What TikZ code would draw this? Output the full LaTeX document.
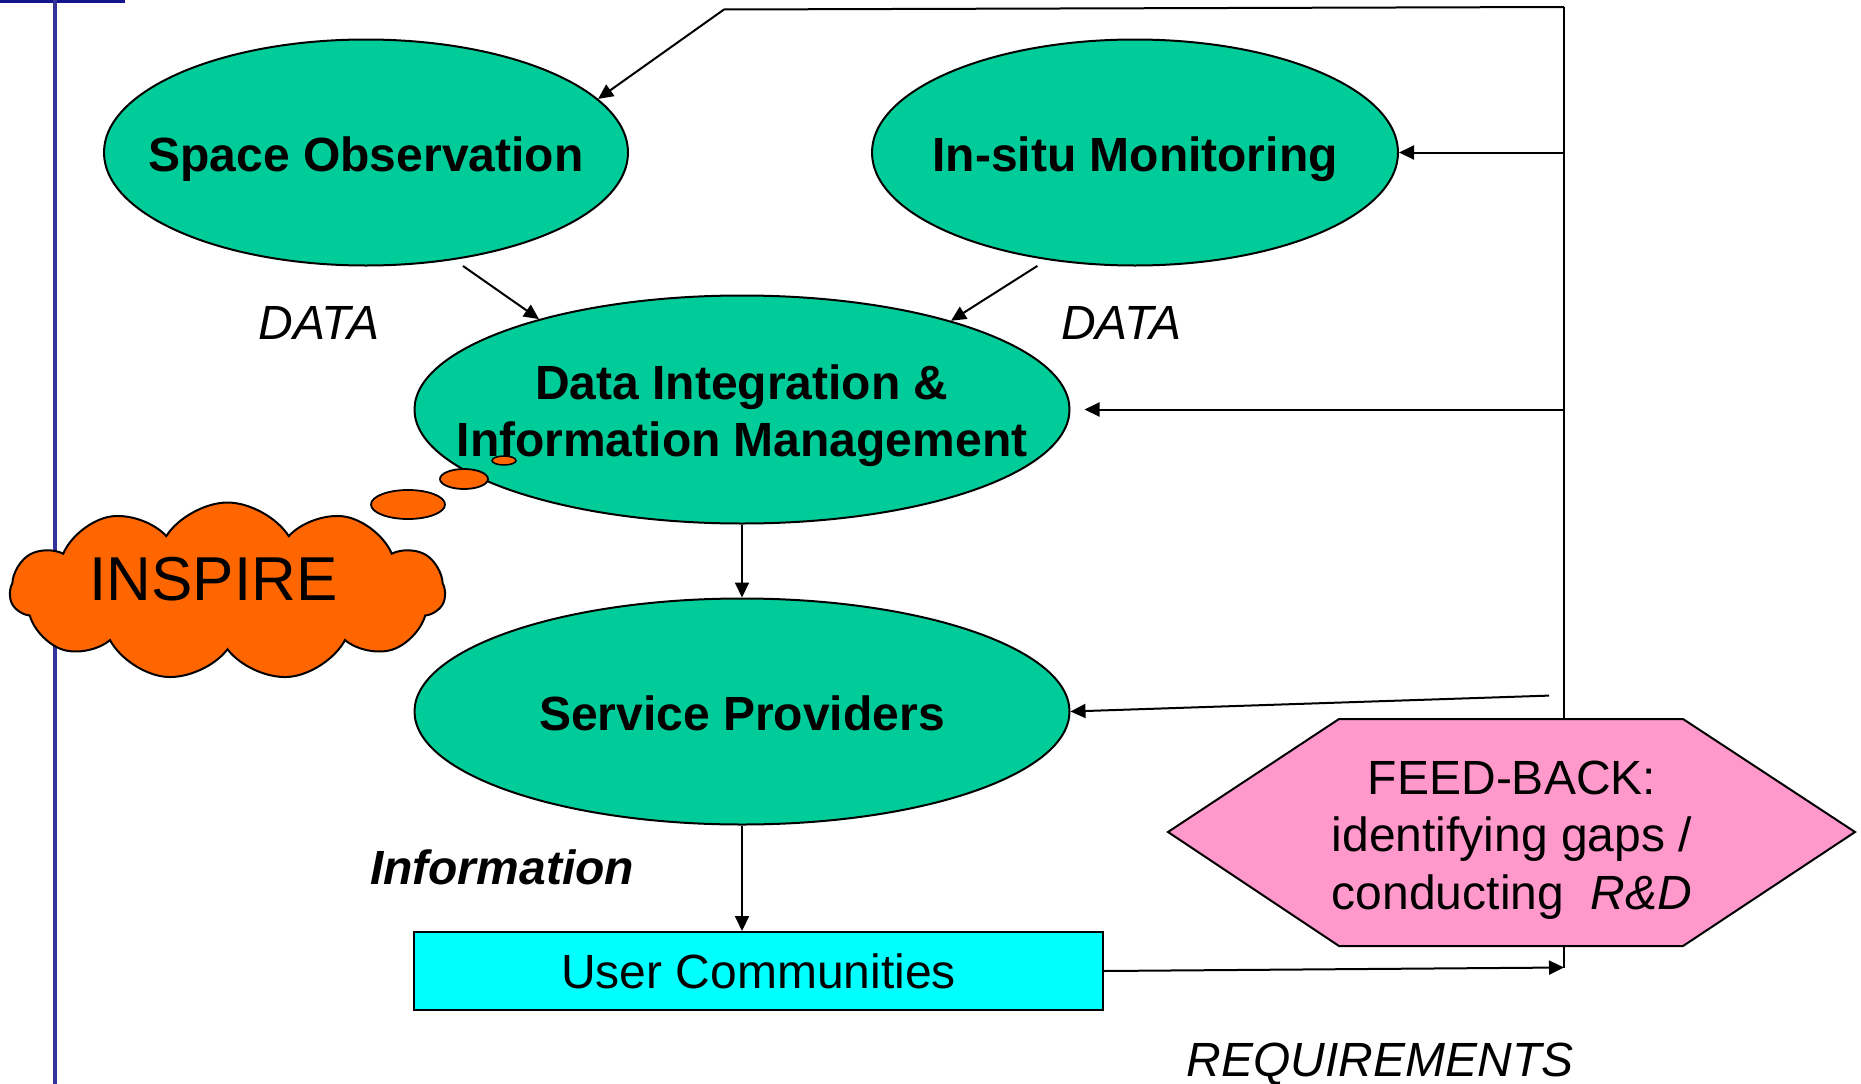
\documentclass[tikz,border=0pt]{standalone}
\usepackage{fontspec}
\setmainfont{Liberation Sans}
\usetikzlibrary{arrows.meta,shapes.geometric,shapes.symbols,calc}
\definecolor{ellgreen}{HTML}{00CC99}
\definecolor{cloudorange}{HTML}{FF6600}
\definecolor{fbpink}{HTML}{FF99CC}
\definecolor{uccyan}{HTML}{00FFFF}
\definecolor{blueline}{HTML}{333399}
\definecolor{bluetop}{HTML}{14148C}
\newcommand{\zw}[1]{\makebox[0pt][c]{#1}}
\begin{document}
\begin{tikzpicture}[x=1pt,y=-1pt,
  ell/.style={ellipse, draw=black, line width=2pt, fill=ellgreen, inner sep=0pt,
    text height=37pt, text depth=0pt,
    font=\fontsize{48}{57.6}\selectfont\bfseries},
  bubble/.style={ellipse, draw=black, line width=1.8pt, fill=cloudorange, inner sep=0pt},
  conn/.style={line width=2pt, -{Triangle[length=15pt,width=14pt]}},
  plainline/.style={line width=2pt},
  lbl/.style={font=\fontsize{48}{57.6}\selectfont\itshape, anchor=base, inner sep=0pt}]
\useasboundingbox (0,0) rectangle (1861,1084);

% blue frame lines
\draw[line width=3pt, bluetop] (0,1.5) -- (125,1.5);
\draw[line width=4pt, blueline] (55,0) -- (55,1084);

% feedback line
\coordinate (fbtop) at (1564,7);
\coordinate (fbbot) at (1564,967.5);
\coordinate (bend) at (724,9.5);
\coordinate (spsrc) at (1549,695.6);
\draw[plainline] (fbtop) -- (fbbot);

% ellipses
\node[ell, minimum width=524pt, minimum height=226pt] (so) at (366,152.5) {\zw{Space Observation}};
\node[ell, minimum width=526pt, minimum height=226pt] (is) at (1135,152.5) {\zw{In-situ Monitoring}};
\node[ell, minimum width=655pt, minimum height=228pt, text height=0pt, text depth=21pt] (di) at (742,409.5)
  {\zw{\begin{tabular}[t]{@{}c@{}}Data Integration \&\\Information Management\end{tabular}}};
\node[ell, minimum width=655pt, minimum height=226pt] (sp) at (742,711.5) {\zw{Service Providers}};

% user communities
\node[draw=black, line width=2pt, fill=uccyan, minimum width=689pt, minimum height=78pt,
  inner sep=0pt, font=\fontsize{48}{57.6}\selectfont] (uc) at (758.5,971) {User Communities};

% feedback hexagon
\draw[line width=2pt, fill=fbpink] (1168,832) -- (1339,719) -- (1683,719) -- (1855,832)
  -- (1683,946) -- (1339,946) -- cycle;
\node[align=center, inner sep=0pt, font=\fontsize{48}{57.6}\selectfont] (fb) at (1512,840)
  {FEED-BACK:\\identifying gaps /\\conducting \ \textit{R\&D}};

% cloud
\node[cloud, cloud puffs=11, cloud puff arc=115, cloud ignores aspect, minimum width=435pt, minimum height=178pt,
  draw=black, line width=2pt, fill=cloudorange, inner sep=0pt,
  text height=17.4pt, text depth=0pt,
  font=\fontsize{62}{74}\selectfont] (cl) at (227.5,591.5)
  {\zw{INSPIRE\hspace*{28pt}}};
\node[bubble, minimum width=74pt, minimum height=29pt] (b1) at (408,504.5) {};
\node[bubble, minimum width=48pt, minimum height=20pt] (b2) at (464,479) {};
\node[bubble, minimum width=24pt, minimum height=9pt, line width=1.5pt] (b3) at (504,460.5) {};

% connectors
\draw[conn] (fbtop) -- (bend) -- (so.13.6);
\draw[conn] (fbtop |- is.east) -- (is.east);
\draw[conn] (fbtop |- di.east) -- ([xshift=14pt]di.east);
\draw[conn] (spsrc) -- (sp.east);
\draw[conn] (uc.east) -- (fbbot);
\draw[conn] ($(so.center)+(97,113.5)$) -- (di.156.4);
\draw[conn] ($(is.center)+(-97.6,113.4)$) -- (di.23.5);
\draw[conn] (di.south) -- (sp.north);
\draw[conn] (sp.south) -- (sp.south |- uc.north);

% labels
\node[lbl] (d1) at (319,339.5) {DATA};
\node[lbl] (d2) at (1121.5,339.5) {DATA};
\node[lbl, font=\fontsize{48}{57.6}\selectfont\bfseries\itshape] (inf) at (502,884) {Information};
\node[lbl] (req) at (1380,1076) {REQUIREMENTS};
\end{tikzpicture}
\end{document}
